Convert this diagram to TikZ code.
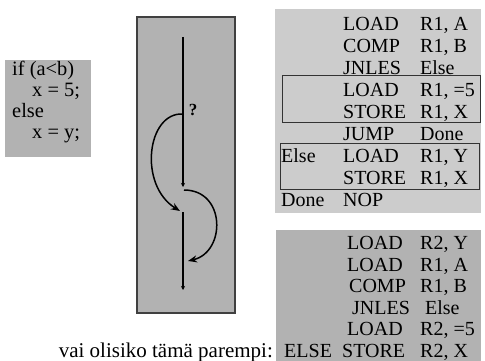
\documentclass[tikz,border=0pt]{standalone}
\usepackage{fontspec}
\setmainfont{Liberation Serif}
\usetikzlibrary{arrows.meta}

\begin{document}
\begin{tikzpicture} [x=1pt, y=-1pt,
            panel/.style={fill=gray!60},
            listing/.style={anchor=base west, inner sep=0pt,
                font=\fontsize{20}{22}\selectfont},
            frame/.style={draw=black!80, line width=1pt},
            flow/.style={line width=1.5pt, -{Stealth[length=4pt, width=4pt]}},
            jump/.style={line width=1.5pt, -{Stealth[length=9pt, width=7pt]}}]

        \useasboundingbox (0,0) rectangle (485,361);

        % Source code
        \fill [panel] (5,60) rectangle (91,157);
        \node (src) [listing,
            font=\fontsize{20.4}{20.7}\selectfont] at (12,76)
            {\begin{tabular}[t]{@{}l@{}}
             if (a<b)\\
             \hspace*{20pt}x = 5;\\
             else\\
             \hspace*{20pt}x = y;
             \end{tabular}};

        % Control flow panel
        \filldraw [panel, draw=black!75, line width=1.5pt]
            (137,17) rectangle (235,313);

        \coordinate (entry)  at (183,37);
        \coordinate (branch) at (183,114);
        \coordinate (split)  at (183,187);
        \coordinate (leave)  at (184,190);
        \coordinate (land)   at (180,211);
        \coordinate (resume) at (183,212);
        \coordinate (back)   at (188,261);
        \coordinate (exit)   at (183,290);

        \node (test) [font=\fontsize{17}{17}\selectfont\bfseries,
            inner sep=0pt] at (193,110) {?};

        % Arrows
        \draw [flow] (entry) -- (split);
        \draw [flow] (resume) -- (exit);
        \draw [jump] (branch) .. controls (147,112) and (138,185) .. (land);
        \draw [jump] (leave) .. controls (226,190) and (226,252) .. (back);

        % Assembly, first version
        \fill [panel, fill=gray!40] (275,9) rectangle (481,213);
        \node (asm) [listing] at (281,31)
            {\begin{tabular}[t]{@{}p{62pt}@{}p{77pt}@{}l@{}}
                 & LOAD  & R1, A\\
                 & COMP  & R1, B\\
                 & JNLES & Else\\
                 & LOAD  & R1, =5\\
                 & STORE & R1, X\\
                 & JUMP  & Done\\
            Else & LOAD  & R1, Y\\
                 & STORE & R1, X\\
            Done & NOP   &
            \end{tabular}};
        \draw [frame] (282,76) rectangle (480,122);
        \draw [frame] (280,143) rectangle (479,189);

        % Assembly, second version
        \fill [panel] (276,230) rectangle (481,361);
        \node (asmbetter) [listing,
            font=\fontsize{20}{21.5}\selectfont] at (284,249.5)
            {\begin{tabular}[t]{@{}p{63pt}@{}p{73pt}@{}l@{}}
                 & LOAD  & R2, Y\\
                 & LOAD  & R1, A\\
                 & \hspace*{2pt}COMP  & R1, B\\
                 & \hspace*{5pt}JNLES & \hspace*{5pt}Else\\
                 & LOAD  & R2, =5\\
            ELSE & \hspace*{-5pt}STORE & R2, X
            \end{tabular}};

        \node (ask) [listing, font=\fontsize{21}{22}\selectfont,
            anchor=base east] at (273,357)
            {vai olisiko tämä parempi:};
\end{tikzpicture}
\end{document}
